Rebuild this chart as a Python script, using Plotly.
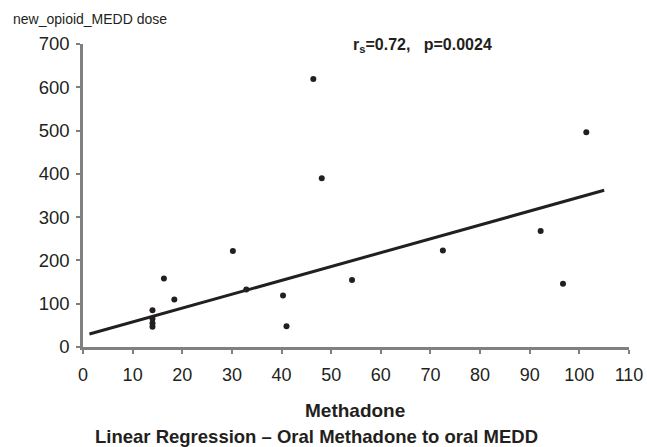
import plotly.graph_objects as go

# Data
methadone = [14.0, 14.0, 14.0, 14.0, 16.3, 18.4, 30.2, 32.9, 40.3, 41.0,
             46.4, 48.1, 54.2, 72.5, 92.2, 96.7, 101.4]
medd = [85, 65, 55, 47, 158, 110, 222, 133, 119, 48,
        619, 390, 155, 223, 268, 146, 496]
fit_x = [1.3, 105.0]
fit_y = [30, 362]
x_ticks = [0, 10, 20, 30, 40, 50, 60, 70, 80, 90, 100, 110]
y_ticks = [0, 100, 200, 300, 400, 500, 600, 700]

ink = "#231f20"
axis_gray = "#808080"
font_family = "Liberation Sans, Arial, sans-serif"

W, H = 647, 447
PL, PR, PT, PB = 83, 629, 44, 347  # plot area in page pixels


def px(x):
    return (x - PL) / (PR - PL)


def py(y):
    return (PB - y) / (PB - PT)


fig = go.Figure()
fig.add_trace(go.Scatter(x=fit_x, y=fit_y, mode="lines",
                         line=dict(color=ink, width=3), hoverinfo="skip",
                         showlegend=False))
fig.add_trace(go.Scatter(x=methadone, y=medd, mode="markers",
                         marker=dict(color=ink, size=6, line=dict(width=0)),
                         showlegend=False))

fig.update_layout(
    width=W, height=H,
    margin=dict(l=PL, r=W - PR, t=PT, b=H - PB),
    paper_bgcolor="white", plot_bgcolor="white",
    font=dict(family=font_family, color=ink, size=18),
    xaxis=dict(range=[0, 110], tickvals=x_ticks, ticktext=[str(v) for v in x_ticks],
               showgrid=False, zeroline=False, showline=True, linecolor=axis_gray,
               linewidth=2.5, ticks="outside", ticklen=4, tickwidth=2,
               tickcolor=axis_gray, tickfont=dict(size=18, color=ink),
               ticklabelstandoff=6, automargin=False),
    yaxis=dict(range=[0, 700], tickvals=y_ticks, ticktext=[str(v) for v in y_ticks],
               showgrid=False, zeroline=False, showline=True, linecolor=axis_gray,
               linewidth=2.5, ticks="outside", ticklen=4, tickwidth=2,
               tickcolor=axis_gray, tickfont=dict(size=18.5, color=ink),
               ticklabelstandoff=3, automargin=False),
    annotations=[
        dict(text="new_opioid_MEDD dose", xref="paper", yref="paper",
             x=px(11), y=py(19), xanchor="left", yanchor="middle",
             showarrow=False, font=dict(size=14, color=ink)),
        dict(text="<b>r<sub>s</sub>=0.72,   p=0.0024</b>", xref="paper", yref="paper",
             x=px(422), y=py(46), xanchor="center", yanchor="middle",
             showarrow=False, font=dict(size=16, color=ink)),
        dict(text="<b>Methadone</b>", xref="paper", yref="paper",
             x=px(355), y=py(411), xanchor="center", yanchor="middle",
             showarrow=False, font=dict(size=19, color=ink)),
        dict(text="<b>Linear Regression \u2013 Oral Methadone to oral MEDD</b>",
             xref="paper", yref="paper",
             x=px(316), y=py(436), xanchor="center", yanchor="middle",
             showarrow=False, font=dict(size=18.5, color=ink)),
    ],
)

fig.write_html(
    "out.html",
    config={"displayModeBar": False},
    post_script="document.body.style.margin='0';"
                "document.body.style.overflow='hidden';",
)
